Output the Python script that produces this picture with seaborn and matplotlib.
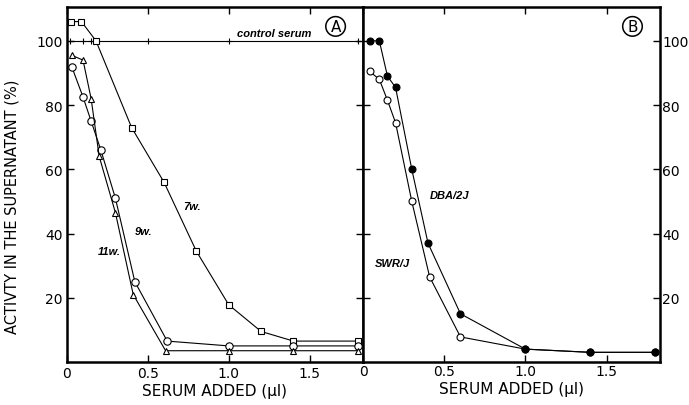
import pandas as pd
import seaborn as sns
import matplotlib.pyplot as plt

# panel A - serum age series
dose_7w = [0.025, 0.09, 0.18, 0.4, 0.6, 0.8, 1.0, 1.2, 1.4, 1.8]
act_7w = [106, 106, 100, 73, 56, 34.5, 17.8, 9.5, 6.5, 6.5]
dose_9w = [0.03, 0.1, 0.15, 0.21, 0.3, 0.42, 0.62, 1.0, 1.4, 1.8]
act_9w = [92, 82.5, 75, 66, 51, 25, 6.5, 5, 5, 5]
dose_11w = [0.03, 0.1, 0.15, 0.2, 0.3, 0.41, 0.61, 1.0, 1.4, 1.8]
act_11w = [95.5, 94, 82, 64, 46.5, 21, 3.5, 3.5, 3.5, 3.5]
dose_ctrl = [0.02, 0.1, 0.15, 0.5, 1.0, 1.8]
act_ctrl = [100, 100, 100, 100, 100, 100]

# panel B - strains
dose_dba = [0.04, 0.1, 0.15, 0.2, 0.3, 0.4, 0.6, 1.0, 1.4, 1.8]
act_dba = [100, 100, 89, 85.5, 60, 37, 15, 4, 3, 3]
dose_swr = [0.04, 0.1, 0.15, 0.2, 0.3, 0.41, 0.6, 1.0, 1.4, 1.8]
act_swr = [90.5, 88, 81.5, 74.5, 50, 26.5, 7.8, 4, 3, 3]

xticks = [0, 0.5, 1.0, 1.5]
xticklabels = ["0", "0.5", "1.0", "1.5"]
yticks = [20, 40, 60, 80, 100]

sns.set_style("ticks")
plt.rcParams['font.family'] = ['DejaVu Sans']
plt.rcParams['text.color'] = 'black'
plt.rcParams['xtick.color'] = 'black'
plt.rcParams['ytick.color'] = 'black'
plt.rcParams['axes.edgecolor'] = 'black'
plt.rcParams['axes.labelcolor'] = 'black'

fig = plt.figure(figsize=(6.89, 4.06), dpi=100)
axA = fig.add_axes([0.097, 0.106, 0.430, 0.874])
axB = fig.add_axes([0.527, 0.106, 0.431, 0.874])

line_kw = dict(color="black", linewidth=0.8, sort=False, legend=False)

def draw(ax, x, y, marker, ms, filled=False):
    df = pd.DataFrame({"dose": x, "act": y})
    sns.lineplot(data=df, x="dose", y="act", ax=ax, marker=marker, markersize=ms,
                 markerfacecolor="black" if filled else "white",
                 markeredgecolor="black", markeredgewidth=0.8, **line_kw)

draw(axA, dose_ctrl, act_ctrl, "+", 4.5)
draw(axA, dose_7w, act_7w, "s", 4.8)
draw(axA, dose_9w, act_9w, "o", 5.3)
draw(axA, dose_11w, act_11w, "^", 4.8)

draw(axB, dose_swr, act_swr, "o", 5)
draw(axB, dose_dba, act_dba, "o", 5, filled=True)

for ax in (axA, axB):
    ax.set_xlim(0, 1.83)
    ax.set_ylim(0, 110.5)
    ax.set_xticks(xticks)
    ax.set_xticklabels(xticklabels)
    ax.set_yticks(yticks)
    ax.tick_params(direction="in", length=5, width=1, top=True, right=True,
                   labelsize=10, pad=3)
    for s in ax.spines.values():
        s.set_visible(True)
        s.set_linewidth(1.8)
    ax.set_xlabel("SERUM ADDED (\u00b5l)", fontsize=11, labelpad=2)
    ax.set_ylabel("")

axB.tick_params(labelleft=False, labelright=True, pad=1.5)
axA.set_ylabel("ACTIVTY IN THE SUPERNATANT (%)", fontsize=10.5)
axA.yaxis.set_label_coords(-0.16, 0.44)

# annotations
ann = dict(fontsize=8, style="italic", weight="bold", family=["Liberation Sans", "DejaVu Sans"])
axA.text(1.05, 101.5, "control serum", **ann)
axA.text(0.72, 47.5, "7w.", **ann)
axA.text(0.42, 40, "9w.", **ann)
axA.text(0.19, 33.5, "11w.", **ann)
axB.text(0.41, 51, "DBA/2J", **ann)
axB.text(0.07, 30, "SWR/J", **ann)

circ = dict(boxstyle="circle,pad=0.15", fc="white", ec="black", lw=1.1)
axA.text(1.66, 104.5, "A", fontsize=11, ha="center", va="center", bbox=circ)
axB.text(1.66, 104.5, "B", fontsize=11, ha="center", va="center", bbox=circ)

fig.savefig("out.png", dpi=100)
